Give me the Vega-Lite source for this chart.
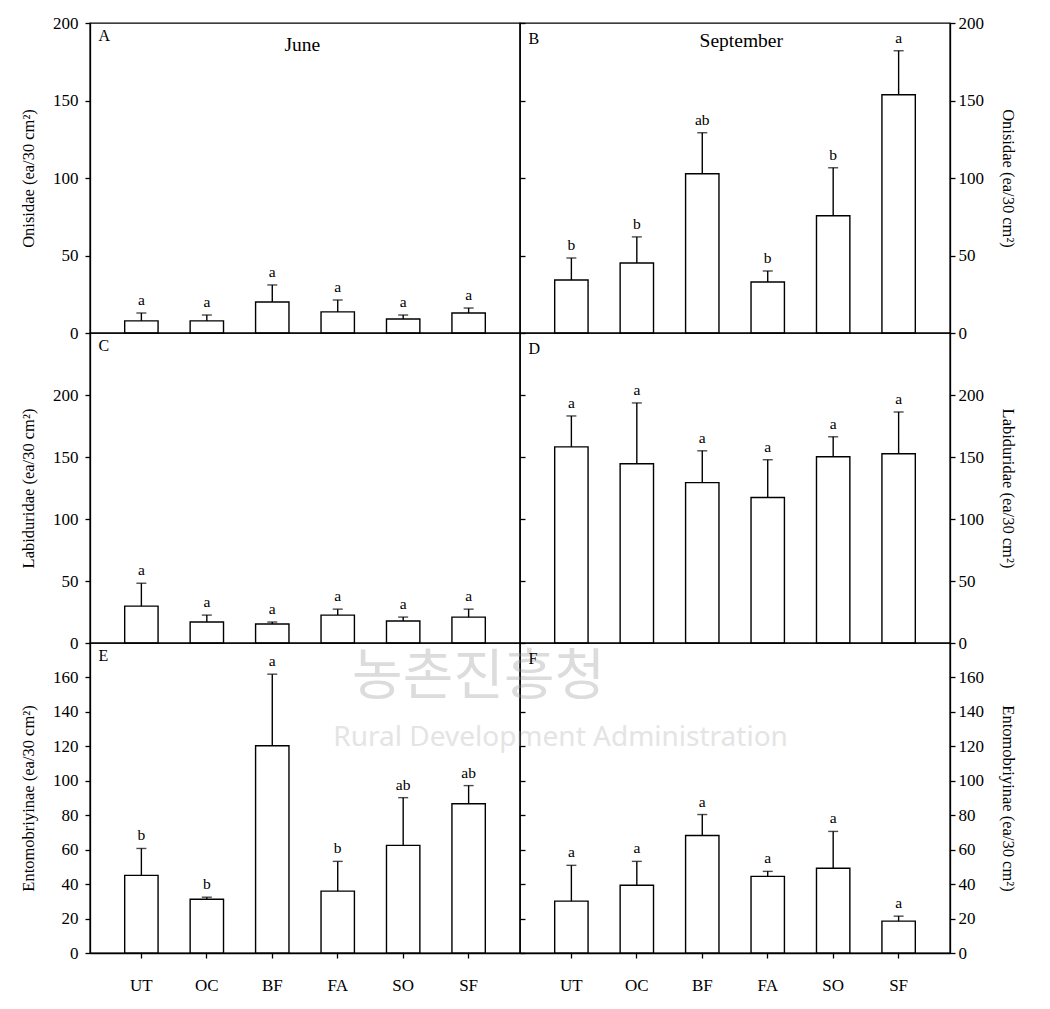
{
"$schema":"https://vega.github.io/schema/vega-lite/v6.json",
"padding":{"left":19,"top":13,"right":5,"bottom":5},
"bounds":"flush",
"spacing":0,
"columns":2,
"config":{"view":{"stroke":"black","strokeWidth":1.4},"font":"Liberation Serif","text":{"font":"Liberation Serif","color":"black"},"title":{"font":"Liberation Serif","fontWeight":"normal","color":"black"},"axis":{"labelFont":"Liberation Serif","labelFontSize":17,"labelColor":"black","titleFont":"Liberation Serif","titleFontSize":16.5,"titleFontWeight":"normal","titleColor":"black","tickColor":"black","tickWidth":1.3,"domainColor":"black","domainWidth":1.3,"grid":false,"labelFlush":false,"labelOverlap":false,"labelBound":false}},
"datasets":{"d":[
{"p":"A","trt":"UT","mean":7.8,"upper":12.9,"letter":"a"},
{"p":"A","trt":"OC","mean":7.8,"upper":11.6,"letter":"a"},
{"p":"A","trt":"BF","mean":20.0,"upper":31.0,"letter":"a"},
{"p":"A","trt":"FA","mean":13.6,"upper":21.3,"letter":"a"},
{"p":"A","trt":"SO","mean":9.0,"upper":11.6,"letter":"a"},
{"p":"A","trt":"SF","mean":12.9,"upper":16.1,"letter":"a"},
{"p":"B","trt":"UT","mean":34.2,"upper":48.4,"letter":"b"},
{"p":"B","trt":"OC","mean":45.2,"upper":62.0,"letter":"b"},
{"p":"B","trt":"BF","mean":102.7,"upper":129.2,"letter":"ab"},
{"p":"B","trt":"FA","mean":32.9,"upper":40.0,"letter":"b"},
{"p":"B","trt":"SO","mean":75.6,"upper":106.6,"letter":"b"},
{"p":"B","trt":"SF","mean":153.7,"upper":182.1,"letter":"a"},
{"p":"C","trt":"UT","mean":29.7,"upper":48.2,"letter":"a"},
{"p":"C","trt":"OC","mean":16.9,"upper":22.5,"letter":"a"},
{"p":"C","trt":"BF","mean":15.3,"upper":16.9,"letter":"a"},
{"p":"C","trt":"FA","mean":22.5,"upper":27.3,"letter":"a"},
{"p":"C","trt":"SO","mean":17.7,"upper":20.9,"letter":"a"},
{"p":"C","trt":"SF","mean":20.9,"upper":27.3,"letter":"a"},
{"p":"D","trt":"UT","mean":158.2,"upper":183.1,"letter":"a"},
{"p":"D","trt":"OC","mean":144.6,"upper":193.6,"letter":"a"},
{"p":"D","trt":"BF","mean":129.3,"upper":155.0,"letter":"a"},
{"p":"D","trt":"FA","mean":117.3,"upper":147.8,"letter":"a"},
{"p":"D","trt":"SO","mean":150.2,"upper":166.3,"letter":"a"},
{"p":"D","trt":"SF","mean":152.6,"upper":186.3,"letter":"a"},
{"p":"E","trt":"UT","mean":45.1,"upper":60.7,"letter":"b"},
{"p":"E","trt":"OC","mean":31.2,"upper":32.4,"letter":"b"},
{"p":"E","trt":"BF","mean":120.3,"upper":161.9,"letter":"a"},
{"p":"E","trt":"FA","mean":35.9,"upper":53.2,"letter":"b"},
{"p":"E","trt":"SO","mean":62.5,"upper":90.2,"letter":"ab"},
{"p":"E","trt":"SF","mean":86.7,"upper":97.2,"letter":"ab"},
{"p":"F","trt":"UT","mean":30.1,"upper":50.9,"letter":"a"},
{"p":"F","trt":"OC","mean":39.3,"upper":53.2,"letter":"a"},
{"p":"F","trt":"BF","mean":68.2,"upper":80.4,"letter":"a"},
{"p":"F","trt":"FA","mean":44.5,"upper":47.4,"letter":"a"},
{"p":"F","trt":"SO","mean":49.2,"upper":70.6,"letter":"a"},
{"p":"F","trt":"SF","mean":18.5,"upper":21.4,"letter":"a"}
]},
"concat":[
{"width":430,"height":310,"data":{"name":"d"},"transform":[{"filter":"datum.p == 'A'"}],
"layer":[
{"mark":{"type":"bar","fill":"white","stroke":"black","strokeWidth":1.4},"encoding":{"x":{"field":"trt","type":"nominal","scale":{"domain":["UT","OC","BF","FA","SO","SF"],"paddingInner":0.49,"paddingOuter":0.53},"axis":null},"y":{"field":"mean","type":"quantitative","scale":{"domain":[0,200],"nice":false},"axis":{"orient":"left","title":"Onisidae (ea/30 cm²)","values":[0,50,100,150,200],"tickSize":5,"labelPadding":7,"titlePadding":16}}}},
{"mark":{"type":"rule","color":"black","strokeWidth":1.4},"encoding":{"x":{"field":"trt","type":"nominal","scale":{"domain":["UT","OC","BF","FA","SO","SF"],"paddingInner":0.49,"paddingOuter":0.53},"axis":null},"y":{"field":"mean","type":"quantitative","scale":{"domain":[0,200],"nice":false},"axis":null},"y2":{"field":"upper"}}},
{"mark":{"type":"tick","color":"black","size":10,"thickness":1.4},"encoding":{"x":{"field":"trt","type":"nominal","scale":{"domain":["UT","OC","BF","FA","SO","SF"],"paddingInner":0.49,"paddingOuter":0.53},"axis":null},"y":{"field":"upper","type":"quantitative","scale":{"domain":[0,200],"nice":false},"axis":{"orient":"right","title":null,"labels":false,"domain":false,"tickSize":5,"values":[0,50,100,150,200]}}}},
{"mark":{"type":"text","baseline":"alphabetic","dy":-8,"fontSize":15.5},"encoding":{"x":{"field":"trt","type":"nominal","scale":{"domain":["UT","OC","BF","FA","SO","SF"],"paddingInner":0.49,"paddingOuter":0.53},"axis":null},"y":{"field":"upper","type":"quantitative","scale":{"domain":[0,200],"nice":false},"axis":null},"text":{"field":"letter"}}},
{"data":{"values":[{}]},"mark":{"type":"text","align":"left","baseline":"alphabetic","dx":-43,"fontSize":16},"encoding":{"x":{"datum":"UT","type":"nominal","scale":{"domain":["UT","OC","BF","FA","SO","SF"],"paddingInner":0.49,"paddingOuter":0.53},"axis":null},"y":{"datum":188.4,"type":"quantitative","scale":{"domain":[0,200],"nice":false},"axis":null},"text":{"value":"A"}}},
{"data":{"values":[{}]},"mark":{"type":"text","align":"center","baseline":"alphabetic","dx":30,"fontSize":19.5},"encoding":{"x":{"datum":"BF","type":"nominal","scale":{"domain":["UT","OC","BF","FA","SO","SF"],"paddingInner":0.49,"paddingOuter":0.53},"axis":null},"y":{"datum":181.9,"type":"quantitative","scale":{"domain":[0,200],"nice":false},"axis":null},"text":{"value":"June"}}}
],
"resolve":{"axis":{"y":"independent"}}},
{"width":430,"height":310,"data":{"name":"d"},"transform":[{"filter":"datum.p == 'B'"}],
"layer":[
{"mark":{"type":"bar","fill":"white","stroke":"black","strokeWidth":1.4},"encoding":{"x":{"field":"trt","type":"nominal","scale":{"domain":["UT","OC","BF","FA","SO","SF"],"paddingInner":0.49,"paddingOuter":0.53},"axis":null},"y":{"field":"mean","type":"quantitative","scale":{"domain":[0,200],"nice":false},"axis":{"orient":"right","title":"Onisidae (ea/30 cm²)","values":[0,50,100,150,200],"tickSize":5,"labelPadding":3,"titlePadding":16}}}},
{"mark":{"type":"rule","color":"black","strokeWidth":1.4},"encoding":{"x":{"field":"trt","type":"nominal","scale":{"domain":["UT","OC","BF","FA","SO","SF"],"paddingInner":0.49,"paddingOuter":0.53},"axis":null},"y":{"field":"mean","type":"quantitative","scale":{"domain":[0,200],"nice":false},"axis":null},"y2":{"field":"upper"}}},
{"mark":{"type":"tick","color":"black","size":10,"thickness":1.4},"encoding":{"x":{"field":"trt","type":"nominal","scale":{"domain":["UT","OC","BF","FA","SO","SF"],"paddingInner":0.49,"paddingOuter":0.53},"axis":null},"y":{"field":"upper","type":"quantitative","scale":{"domain":[0,200],"nice":false},"axis":null}}},
{"mark":{"type":"text","baseline":"alphabetic","dy":-8,"fontSize":15.5},"encoding":{"x":{"field":"trt","type":"nominal","scale":{"domain":["UT","OC","BF","FA","SO","SF"],"paddingInner":0.49,"paddingOuter":0.53},"axis":null},"y":{"field":"upper","type":"quantitative","scale":{"domain":[0,200],"nice":false},"axis":null},"text":{"field":"letter"}}},
{"data":{"values":[{}]},"mark":{"type":"text","align":"left","baseline":"alphabetic","dx":-43,"fontSize":16},"encoding":{"x":{"datum":"UT","type":"nominal","scale":{"domain":["UT","OC","BF","FA","SO","SF"],"paddingInner":0.49,"paddingOuter":0.53},"axis":null},"y":{"datum":186.5,"type":"quantitative","scale":{"domain":[0,200],"nice":false},"axis":null},"text":{"value":"B"}}},
{"data":{"values":[{}]},"mark":{"type":"text","align":"center","baseline":"alphabetic","dx":39,"fontSize":19.5},"encoding":{"x":{"datum":"BF","type":"nominal","scale":{"domain":["UT","OC","BF","FA","SO","SF"],"paddingInner":0.49,"paddingOuter":0.53},"axis":null},"y":{"datum":184.5,"type":"quantitative","scale":{"domain":[0,200],"nice":false},"axis":null},"text":{"value":"September"}}}
],
"resolve":{"axis":{"y":"independent"}}},
{"width":430,"height":310,"data":{"name":"d"},"transform":[{"filter":"datum.p == 'C'"}],
"layer":[
{"mark":{"type":"bar","fill":"white","stroke":"black","strokeWidth":1.4},"encoding":{"x":{"field":"trt","type":"nominal","scale":{"domain":["UT","OC","BF","FA","SO","SF"],"paddingInner":0.49,"paddingOuter":0.53},"axis":null},"y":{"field":"mean","type":"quantitative","scale":{"domain":[0,250],"nice":false},"axis":{"orient":"left","title":"Labiduridae (ea/30 cm²)","values":[0,50,100,150,200],"tickSize":5,"labelPadding":7,"titlePadding":16}}}},
{"mark":{"type":"rule","color":"black","strokeWidth":1.4},"encoding":{"x":{"field":"trt","type":"nominal","scale":{"domain":["UT","OC","BF","FA","SO","SF"],"paddingInner":0.49,"paddingOuter":0.53},"axis":null},"y":{"field":"mean","type":"quantitative","scale":{"domain":[0,250],"nice":false},"axis":null},"y2":{"field":"upper"}}},
{"mark":{"type":"tick","color":"black","size":10,"thickness":1.4},"encoding":{"x":{"field":"trt","type":"nominal","scale":{"domain":["UT","OC","BF","FA","SO","SF"],"paddingInner":0.49,"paddingOuter":0.53},"axis":null},"y":{"field":"upper","type":"quantitative","scale":{"domain":[0,250],"nice":false},"axis":{"orient":"right","title":null,"labels":false,"domain":false,"tickSize":5,"values":[0,50,100,150,200]}}}},
{"mark":{"type":"text","baseline":"alphabetic","dy":-8,"fontSize":15.5},"encoding":{"x":{"field":"trt","type":"nominal","scale":{"domain":["UT","OC","BF","FA","SO","SF"],"paddingInner":0.49,"paddingOuter":0.53},"axis":null},"y":{"field":"upper","type":"quantitative","scale":{"domain":[0,250],"nice":false},"axis":null},"text":{"field":"letter"}}},
{"data":{"values":[{}]},"mark":{"type":"text","align":"left","baseline":"alphabetic","dx":-43,"fontSize":16},"encoding":{"x":{"datum":"UT","type":"nominal","scale":{"domain":["UT","OC","BF","FA","SO","SF"],"paddingInner":0.49,"paddingOuter":0.53},"axis":null},"y":{"datum":235.5,"type":"quantitative","scale":{"domain":[0,250],"nice":false},"axis":null},"text":{"value":"C"}}}
],
"resolve":{"axis":{"y":"independent"}}},
{"width":430,"height":310,"data":{"name":"d"},"transform":[{"filter":"datum.p == 'D'"}],
"layer":[
{"mark":{"type":"bar","fill":"white","stroke":"black","strokeWidth":1.4},"encoding":{"x":{"field":"trt","type":"nominal","scale":{"domain":["UT","OC","BF","FA","SO","SF"],"paddingInner":0.49,"paddingOuter":0.53},"axis":null},"y":{"field":"mean","type":"quantitative","scale":{"domain":[0,250],"nice":false},"axis":{"orient":"right","title":"Labiduridae (ea/30 cm²)","values":[0,50,100,150,200],"tickSize":5,"labelPadding":3,"titlePadding":16}}}},
{"mark":{"type":"rule","color":"black","strokeWidth":1.4},"encoding":{"x":{"field":"trt","type":"nominal","scale":{"domain":["UT","OC","BF","FA","SO","SF"],"paddingInner":0.49,"paddingOuter":0.53},"axis":null},"y":{"field":"mean","type":"quantitative","scale":{"domain":[0,250],"nice":false},"axis":null},"y2":{"field":"upper"}}},
{"mark":{"type":"tick","color":"black","size":10,"thickness":1.4},"encoding":{"x":{"field":"trt","type":"nominal","scale":{"domain":["UT","OC","BF","FA","SO","SF"],"paddingInner":0.49,"paddingOuter":0.53},"axis":null},"y":{"field":"upper","type":"quantitative","scale":{"domain":[0,250],"nice":false},"axis":null}}},
{"mark":{"type":"text","baseline":"alphabetic","dy":-8,"fontSize":15.5},"encoding":{"x":{"field":"trt","type":"nominal","scale":{"domain":["UT","OC","BF","FA","SO","SF"],"paddingInner":0.49,"paddingOuter":0.53},"axis":null},"y":{"field":"upper","type":"quantitative","scale":{"domain":[0,250],"nice":false},"axis":null},"text":{"field":"letter"}}},
{"data":{"values":[{}]},"mark":{"type":"text","align":"left","baseline":"alphabetic","dx":-43,"fontSize":16},"encoding":{"x":{"datum":"UT","type":"nominal","scale":{"domain":["UT","OC","BF","FA","SO","SF"],"paddingInner":0.49,"paddingOuter":0.53},"axis":null},"y":{"datum":233,"type":"quantitative","scale":{"domain":[0,250],"nice":false},"axis":null},"text":{"value":"D"}}}
],
"resolve":{"axis":{"y":"independent"}}},
{"width":430,"height":310,"data":{"name":"d"},"transform":[{"filter":"datum.p == 'E'"}],
"layer":[
{"mark":{"type":"bar","fill":"white","stroke":"black","strokeWidth":1.4},"encoding":{"x":{"field":"trt","type":"nominal","scale":{"domain":["UT","OC","BF","FA","SO","SF"],"paddingInner":0.49,"paddingOuter":0.53},"axis":{"title":null,"labelAngle":0,"tickSize":5,"labelPadding":19,"labelFontSize":17}},"y":{"field":"mean","type":"quantitative","scale":{"domain":[0,180],"nice":false},"axis":{"orient":"left","title":"Entomobriyinae (ea/30 cm²)","values":[0,20,40,60,80,100,120,140,160],"tickSize":5,"labelPadding":7,"titlePadding":16}}}},
{"mark":{"type":"rule","color":"black","strokeWidth":1.4},"encoding":{"x":{"field":"trt","type":"nominal","scale":{"domain":["UT","OC","BF","FA","SO","SF"],"paddingInner":0.49,"paddingOuter":0.53},"axis":{"title":null,"labelAngle":0,"tickSize":5,"labelPadding":19,"labelFontSize":17}},"y":{"field":"mean","type":"quantitative","scale":{"domain":[0,180],"nice":false},"axis":null},"y2":{"field":"upper"}}},
{"mark":{"type":"tick","color":"black","size":10,"thickness":1.4},"encoding":{"x":{"field":"trt","type":"nominal","scale":{"domain":["UT","OC","BF","FA","SO","SF"],"paddingInner":0.49,"paddingOuter":0.53},"axis":{"title":null,"labelAngle":0,"tickSize":5,"labelPadding":19,"labelFontSize":17}},"y":{"field":"upper","type":"quantitative","scale":{"domain":[0,180],"nice":false},"axis":{"orient":"right","title":null,"labels":false,"domain":false,"tickSize":5,"values":[0,20,40,60,80,100,120,140,160]}}}},
{"mark":{"type":"text","baseline":"alphabetic","dy":-8,"fontSize":15.5},"encoding":{"x":{"field":"trt","type":"nominal","scale":{"domain":["UT","OC","BF","FA","SO","SF"],"paddingInner":0.49,"paddingOuter":0.53},"axis":{"title":null,"labelAngle":0,"tickSize":5,"labelPadding":19,"labelFontSize":17}},"y":{"field":"upper","type":"quantitative","scale":{"domain":[0,180],"nice":false},"axis":null},"text":{"field":"letter"}}},
{"data":{"values":[{}]},"mark":{"type":"text","align":"left","baseline":"alphabetic","dx":-43,"fontSize":16},"encoding":{"x":{"datum":"UT","type":"nominal","scale":{"domain":["UT","OC","BF","FA","SO","SF"],"paddingInner":0.49,"paddingOuter":0.53},"axis":{"title":null,"labelAngle":0,"tickSize":5,"labelPadding":19,"labelFontSize":17}},"y":{"datum":169.5,"type":"quantitative","scale":{"domain":[0,180],"nice":false},"axis":null},"text":{"value":"E"}}},
{"data":{"values":[{}]},"mark":{"type":"text","font":"Noto Sans CJK KR","fontSize":55,"color":"#dcdcdc","dx":10,"baseline":"middle","align":"center"},"encoding":{"x":{"datum":"SF","type":"nominal","scale":{"domain":["UT","OC","BF","FA","SO","SF"],"paddingInner":0.49,"paddingOuter":0.53},"axis":{"title":null,"labelAngle":0,"tickSize":5,"labelPadding":19,"labelFontSize":17}},"y":{"datum":160,"type":"quantitative","scale":{"domain":[0,180],"nice":false},"axis":null},"text":{"value":"농촌진흥청"}}},
{"data":{"values":[{}]},"mark":{"type":"text","font":"Noto Sans","fontSize":28,"color":"#e4e4e4","dx":92,"baseline":"middle","align":"center"},"encoding":{"x":{"datum":"SF","type":"nominal","scale":{"domain":["UT","OC","BF","FA","SO","SF"],"paddingInner":0.49,"paddingOuter":0.53},"axis":{"title":null,"labelAngle":0,"tickSize":5,"labelPadding":19,"labelFontSize":17}},"y":{"datum":125,"type":"quantitative","scale":{"domain":[0,180],"nice":false},"axis":null},"text":{"value":"Rural Development Administration"}}}
],
"resolve":{"axis":{"y":"independent"}}},
{"width":430,"height":310,"data":{"name":"d"},"transform":[{"filter":"datum.p == 'F'"}],
"layer":[
{"mark":{"type":"bar","fill":"white","stroke":"black","strokeWidth":1.4},"encoding":{"x":{"field":"trt","type":"nominal","scale":{"domain":["UT","OC","BF","FA","SO","SF"],"paddingInner":0.49,"paddingOuter":0.53},"axis":{"title":null,"labelAngle":0,"tickSize":5,"labelPadding":19,"labelFontSize":17}},"y":{"field":"mean","type":"quantitative","scale":{"domain":[0,180],"nice":false},"axis":{"orient":"right","title":"Entomobriyinae (ea/30 cm²)","values":[0,20,40,60,80,100,120,140,160],"tickSize":5,"labelPadding":3,"titlePadding":16}}}},
{"mark":{"type":"rule","color":"black","strokeWidth":1.4},"encoding":{"x":{"field":"trt","type":"nominal","scale":{"domain":["UT","OC","BF","FA","SO","SF"],"paddingInner":0.49,"paddingOuter":0.53},"axis":{"title":null,"labelAngle":0,"tickSize":5,"labelPadding":19,"labelFontSize":17}},"y":{"field":"mean","type":"quantitative","scale":{"domain":[0,180],"nice":false},"axis":null},"y2":{"field":"upper"}}},
{"mark":{"type":"tick","color":"black","size":10,"thickness":1.4},"encoding":{"x":{"field":"trt","type":"nominal","scale":{"domain":["UT","OC","BF","FA","SO","SF"],"paddingInner":0.49,"paddingOuter":0.53},"axis":{"title":null,"labelAngle":0,"tickSize":5,"labelPadding":19,"labelFontSize":17}},"y":{"field":"upper","type":"quantitative","scale":{"domain":[0,180],"nice":false},"axis":null}}},
{"mark":{"type":"text","baseline":"alphabetic","dy":-8,"fontSize":15.5},"encoding":{"x":{"field":"trt","type":"nominal","scale":{"domain":["UT","OC","BF","FA","SO","SF"],"paddingInner":0.49,"paddingOuter":0.53},"axis":{"title":null,"labelAngle":0,"tickSize":5,"labelPadding":19,"labelFontSize":17}},"y":{"field":"upper","type":"quantitative","scale":{"domain":[0,180],"nice":false},"axis":null},"text":{"field":"letter"}}},
{"data":{"values":[{}]},"mark":{"type":"text","align":"left","baseline":"alphabetic","dx":-43,"fontSize":16},"encoding":{"x":{"datum":"UT","type":"nominal","scale":{"domain":["UT","OC","BF","FA","SO","SF"],"paddingInner":0.49,"paddingOuter":0.53},"axis":{"title":null,"labelAngle":0,"tickSize":5,"labelPadding":19,"labelFontSize":17}},"y":{"datum":167.8,"type":"quantitative","scale":{"domain":[0,180],"nice":false},"axis":null},"text":{"value":"F"}}}
],
"resolve":{"axis":{"y":"independent"}}}
]
}
